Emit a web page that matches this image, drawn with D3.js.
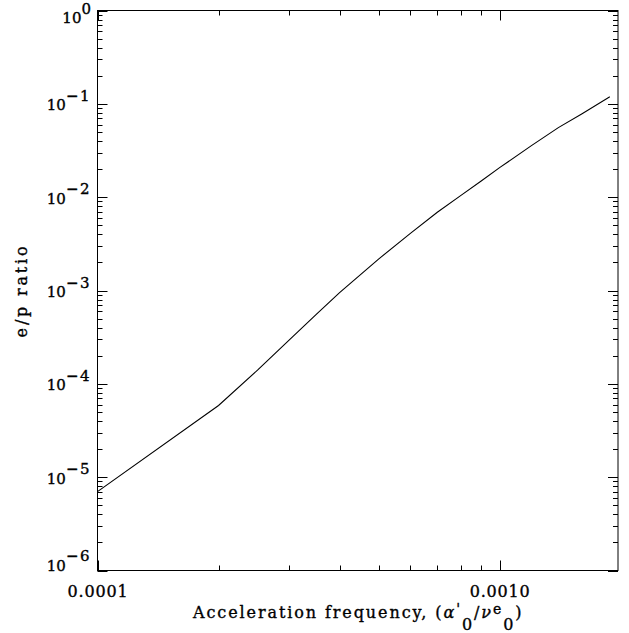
<!DOCTYPE html>
<html><head><meta charset="utf-8">
<script src="https://cdn.jsdelivr.net/npm/d3@7"></script>
<style>body{margin:0;background:#fff}svg{display:block}</style>
</head><body><div id="chart"></div>
<script>
// Data
const freq = [1e-4, 2e-4, 2.5e-4, 3e-4, 3.5e-4, 4e-4, 5e-4, 6e-4, 7e-4, 8e-4, 9e-4, 1e-3, 1.2e-3, 1.4e-3, 1.6e-3, 1.88e-3];
const ratio = [7.0e-6, 5.86e-5, 1.40e-4, 2.96e-4, 5.56e-4, 9.48e-4, 2.17e-3, 4.10e-3, 6.89e-3, 1.04e-2, 1.49e-2, 2.07e-2, 3.57e-2, 5.56e-2, 7.8e-2, 0.119];
const yTickExponents = [0, -1, -2, -3, -4, -5, -6];
const xTickValues = [1e-4, 1e-3];
const xTickLabels = ["0.0001", "0.0010"];
const xDomain = [1e-4, 0.00197];
const yDomain = [1e-6, 1];

const W = 629, H = 633;
const L = 97.5, R = 618, T = 10.5, B = 570.5;
const font = "'DejaVu Serif', serif";

const svg = d3.select("#chart").append("svg").attr("width", W).attr("height", H);
const x = d3.scaleLog().domain(xDomain).range([L, R]);
const y = d3.scaleLog().domain(yDomain).range([B, T]);

// frame
svg.append("rect").attr("x", L).attr("y", T).attr("width", R - L).attr("height", B - T)
  .attr("fill", "none").attr("stroke", "#000").attr("stroke-width", 1);

const g = svg.append("g").attr("stroke", "#000").attr("stroke-width", 1);

// y ticks (left and right)
const yTicks = [];
for (let d = -6; d <= 0; d++) {
  for (let k = 1; k <= 9; k++) {
    const v = k * Math.pow(10, d);
    if (v >= yDomain[0] * 0.999 && v <= yDomain[1] * 1.001) yTicks.push({v, major: k === 1});
  }
}
yTicks.forEach(t => {
  const yy = Math.round(y(t.v)) + 0.5;
  const len = t.major ? 10 : 5;
  g.append("line").attr("x1", L).attr("x2", L + len).attr("y1", yy).attr("y2", yy);
  g.append("line").attr("x1", R).attr("x2", R - len).attr("y1", yy).attr("y2", yy);
});

// x ticks (bottom and top)
const xTicks = [];
for (let d = -4; d <= -3; d++) {
  for (let k = 1; k <= 9; k++) {
    const v = k * Math.pow(10, d);
    if (v >= xDomain[0] * 0.999 && v <= xDomain[1] * 1.001) xTicks.push({v, major: k === 1});
  }
}
xTicks.forEach(t => {
  const xx = Math.round(x(t.v)) + 0.5;
  const len = t.major ? 10 : 5;
  g.append("line").attr("x1", xx).attr("x2", xx).attr("y1", B).attr("y2", B - len);
  g.append("line").attr("x1", xx).attr("x2", xx).attr("y1", T).attr("y2", T + len);
});

const textStroke = 0.35;

// y tick labels 10^n
yTickExponents.forEach(e => {
  const ty = y(Math.pow(10, e));
  let base = ty + 6.5;
  base = Math.max(base, T + 12.5);
  base = Math.min(base, B);
  const t = svg.append("text").attr("x", 91).attr("y", base)
    .attr("text-anchor", "end").attr("font-family", font).attr("font-size", 15)
    .attr("fill", "#000").attr("stroke", "#000").attr("stroke-width", textStroke);
  t.append("tspan").text("10");
  t.append("tspan").attr("dy", -9.5).attr("letter-spacing", e < 0 ? 1.5 : 0)
    .text(e < 0 ? "\u2212" + Math.abs(e) : String(e));
});

// x tick labels
xTickValues.forEach((v, i) => {
  svg.append("text").attr("x", x(v) + 0.5).attr("y", 597)
    .attr("text-anchor", "middle").attr("font-family", font).attr("font-size", 16)
    .attr("letter-spacing", 0.8).attr("fill", "#000")
    .attr("stroke", "#000").attr("stroke-width", textStroke).text(xTickLabels[i]);
});

// x axis title
const xt = svg.append("text").attr("x", 193).attr("y", 618)
  .attr("font-family", font).attr("font-size", 16).attr("letter-spacing", 1.9).attr("fill", "#000")
  .attr("stroke", "#000").attr("stroke-width", textStroke);
xt.append("tspan").text("Acceleration frequency, (");
xt.append("tspan").attr("font-style", "italic").text("\u03b1");
xt.append("tspan").attr("dy", -4).attr("font-size", 14).text("'");
xt.append("tspan").attr("dy", 15.5).text("0");
xt.append("tspan").attr("dy", -11.5).text("/");
xt.append("tspan").attr("font-style", "italic").text("\u03bd");
xt.append("tspan").attr("dy", -4.5).attr("font-size", 14).text("e");
xt.append("tspan").attr("dy", 16).text("0");
xt.append("tspan").attr("dy", -11.5).text(")");

// y axis title
svg.append("text").attr("transform", `translate(27,${(T + B) / 2}) rotate(-90)`)
  .attr("text-anchor", "middle").attr("font-family", font).attr("font-size", 16)
  .attr("letter-spacing", 2.8).attr("fill", "#000")
  .attr("stroke", "#000").attr("stroke-width", textStroke).text("e/p ratio");

// curve
const line = d3.line().x(d => x(d[0])).y(d => y(d[1]));
svg.append("path").datum(freq.map((f, i) => [f, ratio[i]]))
  .attr("d", line).attr("fill", "none").attr("stroke", "#000").attr("stroke-width", 1.1);
</script></body></html>
